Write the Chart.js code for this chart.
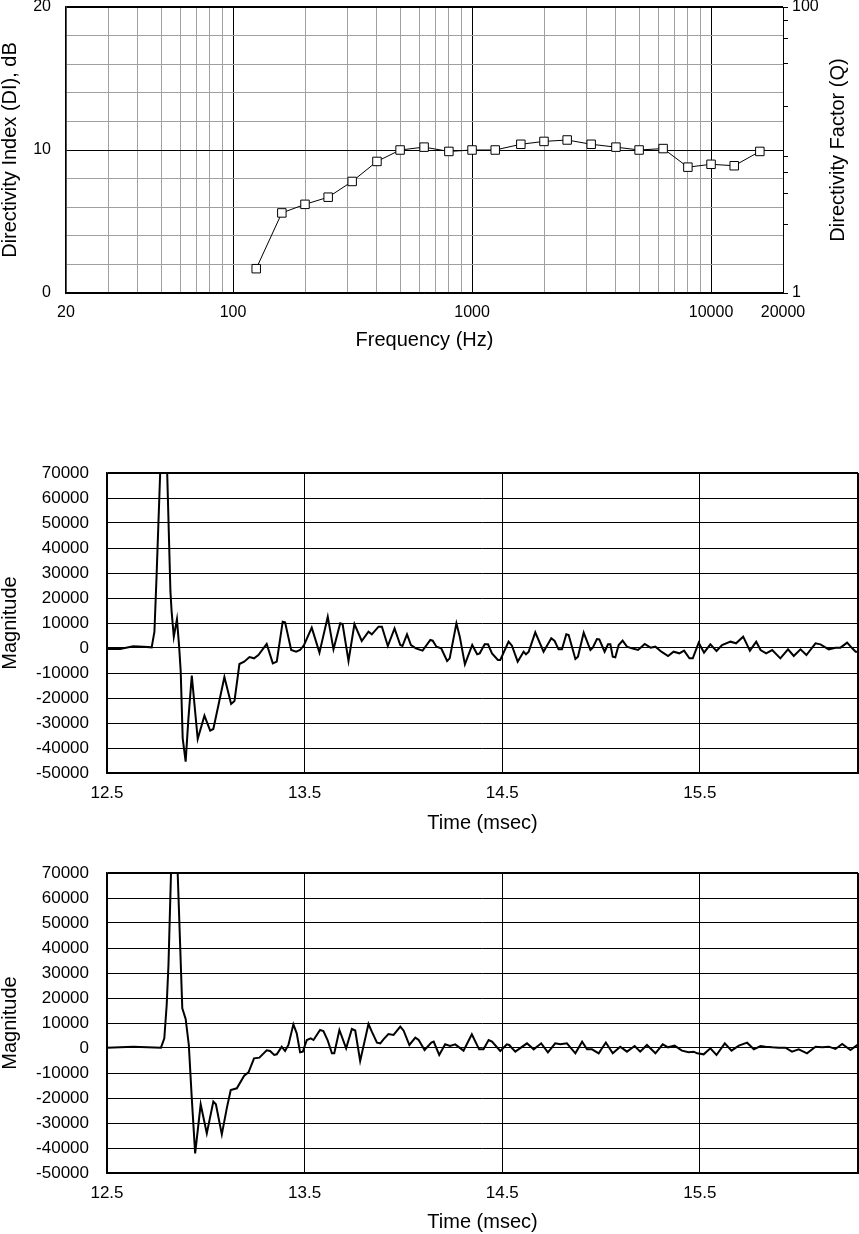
<!DOCTYPE html>
<html>
<head>
<meta charset="utf-8">
<script src="https://cdn.jsdelivr.net/npm/chart.js@4.4.1/dist/chart.umd.min.js"></script>
<style>
  html, body { margin: 0; padding: 0; background: #fff; }
  body { width: 859px; height: 1234px; position: relative; overflow: hidden; }
  canvas { position: absolute; left: 0; }
</style>
</head>
<body>
<canvas id="directivity" width="859" height="360" style="top:0;width:859px;height:360px"></canvas>
<canvas id="impulseA" width="859" height="410" style="top:430px;width:859px;height:410px"></canvas>
<canvas id="impulseB" width="859" height="394" style="top:840px;width:859px;height:394px"></canvas>
<script>
// directivity chart data
const freqs = [125, 160, 200, 250, 315, 400, 500, 630, 800, 1000, 1250, 1600, 2000, 2500, 3150, 4000, 5000, 6300, 8000, 10000, 12500, 16000];
const diValues = [1.7, 5.6, 6.2, 6.7, 7.8, 9.2, 10.0, 10.2, 9.9, 10.0, 10.0, 10.4, 10.6, 10.7, 10.4, 10.2, 10.0, 10.1, 8.8, 9.0, 8.9, 9.9];

const freqGrid = [20, 30, 40, 50, 60, 70, 80, 90, 100, 200, 300, 400, 500, 600, 700, 800, 900, 1000,
  2000, 3000, 4000, 5000, 6000, 7000, 8000, 9000, 10000, 20000];
const freqLabels = [20, 100, 1000, 10000, 20000];
const diGrid = [0, 2, 4, 6, 8, 10, 12, 14, 16, 18, 20];
const diLabels = [0, 10, 20];
const qGrid = [1, 2, 3, 4, 5, 6, 7, 8, 9, 10, 20, 30, 40, 50, 60, 70, 80, 90, 100];
const qLabels = [1, 10, 100];

// impulse responses (time in msec, magnitude)
const timesA = [12.500, 12.566, 12.633, 12.684, 12.726, 12.740, 12.751, 12.789, 12.821, 12.827, 12.838, 12.854, 12.865, 12.873, 12.883, 12.898,
  12.912, 12.929, 12.959, 12.993, 13.022, 13.038, 13.064, 13.094, 13.128, 13.145, 13.170, 13.194, 13.221, 13.244, 13.266, 13.308,
  13.339, 13.359, 13.389, 13.401, 13.432, 13.457, 13.477, 13.497, 13.536, 13.575, 13.617, 13.646, 13.680, 13.692, 13.722, 13.752,
  13.789, 13.823, 13.840, 13.874, 13.891, 13.921, 13.955, 13.984, 13.995, 14.018, 14.038, 14.063, 14.097, 14.136, 14.148, 14.167,
  14.191, 14.221, 14.234, 14.268, 14.285, 14.311, 14.348, 14.373, 14.386, 14.411, 14.428, 14.448, 14.478, 14.490, 14.532, 14.549,
  14.578, 14.608, 14.620, 14.634, 14.667, 14.709, 14.748, 14.765, 14.785, 14.802, 14.824, 14.836, 14.870, 14.883, 14.912, 14.946,
  14.958, 14.979, 14.991, 15.018, 15.035, 15.047, 15.059, 15.072, 15.089, 15.109, 15.131, 15.156, 15.187, 15.221, 15.250, 15.275,
  15.305, 15.339, 15.367, 15.396, 15.420, 15.447, 15.464, 15.494, 15.521, 15.553, 15.584, 15.612, 15.655, 15.683, 15.719, 15.753,
  15.785, 15.807, 15.835, 15.866, 15.907, 15.946, 15.975, 16.009, 16.039, 16.085, 16.110, 16.152, 16.186, 16.211, 16.245, 16.271,
  16.288, 16.303];
const magsA = [-400, -400, 667, 533, 267, 6533, 29200, 115000, 22533, 14533, 4533, 11467, 533, -9467, -36133, -45467,
  -28133, -11067, -36400, -27067, -33067, -32400, -22800, -11600, -22400, -21200, -6400, -5467, -3600, -4133, -2800, 1600,
  -6133, -5467, 10533, 10267, -800, -1467, -800, 1200, 8133, -1867, 12533, -533, 9867, 9600, -5200, 9600,
  2800, 6533, 5467, 8533, 8533, 800, 7867, 1200, 800, 5467, 1200, -133, -1067, 3200, 2933, 533,
  -133, -5200, -4133, 9867, 4533, -6533, 1200, -2533, -2133, 1467, 1467, -2133, -4800, -4800, 2533, 933,
  -5467, -1467, -2533, -1467, 6267, -1467, 3867, 2800, -533, -533, 5467, 5200, -4400, -3467, 6133, -800,
  133, 3600, 3467, -1467, 1467, 1467, -3467, -3733, 1200, 2933, 533, -133, -800, 1600, 133, 533,
  -1467, -3200, -1467, -2133, -1067, -4133, -4133, 2133, -1867, 1467, -1200, 1200, 2533, 1867, 4533, -1067,
  2533, -800, -2133, -800, -4133, -533, -3200, -533, -2800, 1867, 1467, -533, 133, 133, 2133, -133,
  -1467, -1467];

const timesB = [12.500, 12.633, 12.773, 12.790, 12.802, 12.811, 12.839, 12.881, 12.898, 12.914, 12.929, 12.946, 12.974, 13.005, 13.038, 13.051,
  13.081, 13.106, 13.126, 13.157, 13.194, 13.216, 13.244, 13.271, 13.308, 13.325, 13.346, 13.359, 13.384, 13.401, 13.418, 13.443,
  13.460, 13.477, 13.491, 13.511, 13.531, 13.545, 13.578, 13.595, 13.616, 13.638, 13.650, 13.676, 13.710, 13.739, 13.756, 13.781,
  13.823, 13.840, 13.866, 13.883, 13.899, 13.924, 13.950, 13.984, 14.001, 14.030, 14.060, 14.077, 14.107, 14.141, 14.153, 14.181,
  14.211, 14.236, 14.262, 14.304, 14.346, 14.383, 14.405, 14.431, 14.448, 14.490, 14.523, 14.535, 14.566, 14.625, 14.659, 14.697,
  14.731, 14.768, 14.794, 14.827, 14.870, 14.904, 14.929, 14.954, 14.988, 15.024, 15.059, 15.097, 15.131, 15.170, 15.198, 15.232,
  15.275, 15.312, 15.339, 15.372, 15.409, 15.443, 15.469, 15.486, 15.519, 15.553, 15.584, 15.626, 15.660, 15.697, 15.739, 15.773,
  15.807, 15.832, 15.866, 15.899, 15.933, 15.966, 16.000, 16.042, 16.085, 16.119, 16.152, 16.186, 16.220, 16.262, 16.301];
const magsB = [133, 533, 133, 3867, 17200, 33200, 113200, 15867, 11600, 1200, -20133, -42133, -22533, -34133, -21467, -22533,
  -34533, -24133, -16800, -16133, -11067, -9733, -4133, -3867, -933, -1200, -2800, -2533, 533, -1200, 1200, 9467,
  5867, -1733, -1467, 3200, 3867, 3200, 7200, 6800, 3200, -2133, -2133, 7200, -133, 7600, 7000, -5200,
  9600, 6533, 2133, 1867, 3467, 5600, 5200, 8533, 6933, 1200, 4133, 3200, -800, 2133, 2533, -2800,
  1467, 800, 1467, -1067, 5467, -533, -533, 3200, 2533, -1200, 1467, 1200, -1467, 1867, -533, 1867,
  -1733, 1867, 1467, 1867, -2133, 2533, -533, -533, -2133, 2200, -2133, 533, -1467, 800, -1467, 1200,
  -2133, 1467, 267, 933, -1067, -1733, -1467, -2133, -2533, -133, -2800, 1867, -1067, 933, 2133, -533,
  800, 533, 267, 133, 133, -1467, -533, -2133, 533, 267, 533, -400, 1600, -800, 1467];

const timeGrid = [12.5, 13.5, 14.5, 15.5, 16.3];
const timeLabels = [12.5, 13.5, 14.5, 15.5];
const magGrid = [-50000, -40000, -30000, -20000, -10000, 0, 10000, 20000, 30000, 40000, 50000, 60000, 70000];

const FONT = '"Liberation Sans", Arial, Helvetica, sans-serif';
Chart.defaults.font.family = FONT;
Chart.defaults.color = '#000';

const GRAY = '#a0a0a0';
const isDecade = v => Math.abs(Math.log10(v) - Math.round(Math.log10(v))) < 1e-9;
const setTicks = list => scale => { scale.ticks = list.map(v => ({ value: v })); };
// fixed axis size, and no extra label padding pushed into the layout
const fitTo = (w, h) => s => {
  if (w) s.width = w;
  if (h) s.height = h;
  s.paddingTop = s.paddingBottom = s.paddingLeft = s.paddingRight = 0;
};

// right title reads bottom-to-top like the left one, so draw it here
const rightTitle = {
  id: 'rightTitle',
  afterDraw(chart) {
    const s = chart.scales.y2;
    const area = chart.chartArea;
    const ctx = chart.ctx;
    ctx.save();
    ctx.translate(s.right - 21, (area.top + area.bottom) / 2);
    ctx.rotate(-Math.PI / 2);
    ctx.font = '20px ' + FONT;
    ctx.fillStyle = '#000';
    ctx.textAlign = 'center';
    ctx.textBaseline = 'middle';
    ctx.fillText('Directivity Factor (Q)', 0, 0);
    ctx.restore();
  }
};

new Chart(document.getElementById('directivity'), {
  type: 'line',
  data: {
    datasets: [{
      data: freqs.map((f, i) => ({ x: f, y: diValues[i] })),
      borderColor: '#000',
      borderWidth: 1,
      tension: 0,
      pointStyle: 'rect',
      pointRadius: 6,
      pointBackgroundColor: '#fff',
      pointBorderColor: '#000',
      pointBorderWidth: 1,
      xAxisID: 'x',
      yAxisID: 'y'
    }]
  },
  options: {
    responsive: false,
    animation: false,
    layout: { autoPadding: false, padding: { top: 7, right: 0, bottom: 0, left: 0 } },
    plugins: { legend: { display: false }, tooltip: { enabled: false } },
    scales: {
      x: {
        type: 'logarithmic',
        position: 'bottom',
        min: 20,
        max: 20000,
        afterBuildTicks: setTicks(freqGrid),
        afterFit: fitTo(0, 67),
        ticks: {
          autoSkip: false,
          maxRotation: 0,
          padding: 10,
          font: { size: 16 },
          callback: v => freqLabels.includes(v) ? String(v) : ''
        },
        grid: {
          drawTicks: false,
          color: c => isDecade(c.tick.value) ? '#000' : GRAY
        },
        border: { color: '#000', width: 1.5 },
        title: { display: true, text: 'Frequency (Hz)', font: { size: 20, lineHeight: 1 }, padding: { top: 0, bottom: 10 } }
      },
      y: {
        type: 'linear',
        position: 'left',
        min: 0,
        max: 20,
        afterBuildTicks: setTicks(diGrid),
        afterFit: fitTo(66, 0),
        ticks: {
          padding: 15,
          font: { size: 16 },
          callback: v => diLabels.includes(v) ? String(v) : ''
        },
        grid: {
          drawTicks: false,
          color: c => c.tick.value % 10 === 0 ? '#000' : GRAY,
          lineWidth: c => c.tick.value === 20 ? 2 : 1
        },
        border: { color: '#000', width: 1.5 },
        title: { display: true, text: 'Directivity Index (DI), dB', font: { size: 20, lineHeight: 1 }, padding: 0 }
      },
      y2: {
        type: 'logarithmic',
        position: 'right',
        min: 1,
        max: 100,
        afterBuildTicks: setTicks(qGrid),
        afterFit: fitTo(76, 0),
        ticks: {
          padding: 4,
          font: { size: 16 },
          callback: v => qLabels.includes(v) ? String(v) : ''
        },
        grid: { drawOnChartArea: false, drawTicks: true, tickLength: 5, color: '#000' },
        border: { color: '#000', width: 1 }
      }
    }
  },
  plugins: [rightTitle]
});

function impulseChart(id, times, mags, opts) {
  return new Chart(document.getElementById(id), {
    type: 'line',
    data: {
      datasets: [{
        data: times.map((t, i) => ({ x: t, y: mags[i] })),
        borderColor: '#000',
        borderWidth: 2,
        tension: 0,
        pointRadius: 0
      }]
    },
    options: {
      responsive: false,
      animation: false,
      layout: { autoPadding: false, padding: { top: opts.top, right: 1, bottom: 0, left: 0 } },
      plugins: { legend: { display: false }, tooltip: { enabled: false } },
      scales: {
        x: {
          type: 'linear',
          min: 12.5,
          max: 16.3,
          afterBuildTicks: setTicks(timeGrid),
          afterFit: fitTo(0, opts.axisHeight),
          ticks: {
            autoSkip: false,
            maxRotation: 0,
            padding: 10,
            font: { size: 17 },
            callback: v => timeLabels.includes(v) ? v.toFixed(1) : ''
          },
          grid: {
            drawTicks: false,
            color: '#000',
            lineWidth: c => c.tick.value === 16.3 ? 2 : 1
          },
          border: { color: '#000', width: 2 },
          title: { display: true, text: 'Time (msec)', font: { size: 20, lineHeight: 1 }, padding: { top: 0, bottom: opts.titlePad } }
        },
        y: {
          type: 'linear',
          min: -50000,
          max: 70000,
          afterBuildTicks: setTicks(magGrid),
          afterFit: fitTo(107, 0),
          ticks: {
            padding: 18,
            font: { size: 17 },
            callback: v => String(v)
          },
          grid: {
            drawTicks: false,
            color: '#000',
            lineWidth: c => c.tick.value === 70000 ? 2 : 1
          },
          border: { color: '#000', width: 1.5 },
          title: { display: true, text: 'Magnitude', font: { size: 20, lineHeight: 1 }, padding: 0 }
        }
      }
    }
  });
}

impulseChart('impulseA', timesA, magsA, { top: 43, axisHeight: 67, titlePad: 7 });
impulseChart('impulseB', timesB, magsB, { top: 33, axisHeight: 61, titlePad: 2 });
</script>
</body>
</html>
